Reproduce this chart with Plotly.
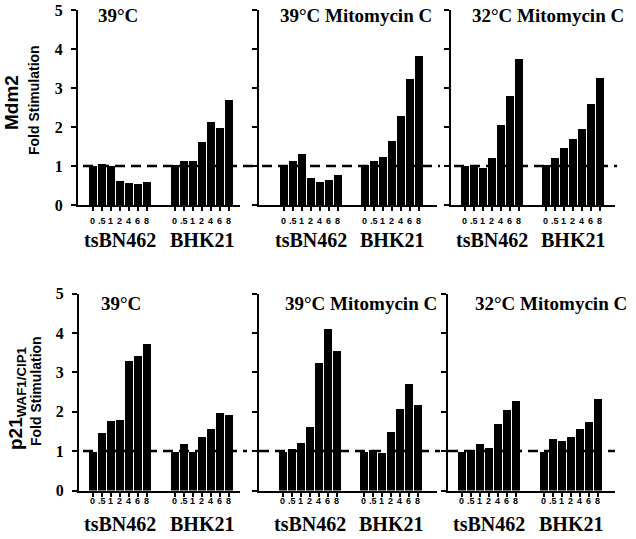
import plotly.graph_objects as go

W, H = 636, 539

doses = ["0", ".5", "1", "2", "4", "6", "8"]
groups = ["tsBN462", "BHK21"]
conditions = ["39°C", "39°C Mitomycin C", "32°C Mitomycin C"]

# Mdm2 fold stimulation
mdm2_39_ts = [1.0, 1.06, 1.0, 0.62, 0.56, 0.54, 0.59]
mdm2_39_bhk = [1.02, 1.12, 1.12, 1.61, 2.14, 1.98, 2.68]
mdm2_39m_ts = [1.0, 1.13, 1.32, 0.70, 0.59, 0.65, 0.76]
mdm2_39m_bhk = [1.03, 1.13, 1.24, 1.65, 2.27, 3.23, 3.82]
mdm2_32m_ts = [1.0, 1.03, 0.96, 1.2, 2.05, 2.79, 3.75]
mdm2_32m_bhk = [1.03, 1.2, 1.45, 1.7, 1.94, 2.6, 3.26]

# p21 WAF1/CIP1 fold stimulation
p21_39_ts = [1.0, 1.48, 1.78, 1.81, 3.29, 3.43, 3.72]
p21_39_bhk = [1.0, 1.2, 1.0, 1.36, 1.57, 1.98, 1.92]
p21_39m_ts = [1.0, 1.06, 1.22, 1.62, 3.24, 4.1, 3.56]
p21_39m_bhk = [0.98, 1.04, 0.97, 1.49, 2.09, 2.71, 2.19]
p21_32m_ts = [1.0, 1.03, 1.19, 1.09, 1.71, 2.06, 2.29]
p21_32m_bhk = [1.0, 1.32, 1.26, 1.37, 1.57, 1.76, 2.33]

y_ticks = [0, 1, 2, 3, 4, 5]

rows_data = [
    [(mdm2_39_ts, mdm2_39_bhk), (mdm2_39m_ts, mdm2_39m_bhk), (mdm2_32m_ts, mdm2_32m_bhk)],
    [(p21_39_ts, p21_39_bhk), (p21_39m_ts, p21_39m_bhk), (p21_32m_ts, p21_32m_bhk)],
]

# ---- layout geometry (pixels) ----
PITCH = 9.0
rows_geom = [
    dict(y0=205, y5=10, grp_y=240, title_y=15, tick_y=221,
         panels=[(78, 240, 1.65, 9.11, 96, 83, 253),
                 (259, 437, 2.76, 9.0, 278, 262, 440),
                 (451, 615, 1.54, 9.0, 470, 454, 617)]),
    dict(y0=490.5, y5=293.5, grp_y=524, title_y=303, tick_y=501,
         panels=[(79, 240, 1.54, 9.11, 99, 83, 247),
                 (259, 437, 2.65, 9.0, 283, 259, 440),
                 (448, 615, 1.54, 9.11, 473, 448, 615)]),
]


def px(x):
    return x / W


def py(y):
    return 1 - y / H


SERIF = "Liberation Serif"
SANS = "Liberation Sans"

fig = go.Figure()
layout = {}
annotations = []
shapes = []

k = 0
for r, geom in enumerate(rows_geom):
    for c, (ax_px, end_px, first_off, bhk_off, title_x, dash0, dash1) in enumerate(geom["panels"]):
        k += 1
        xa = "x" if k == 1 else f"x{k}"
        ya = "y" if k == 1 else f"y{k}"
        ts_vals, bhk_vals = rows_data[r][c]
        xs_ts = [i for i in range(len(doses))]
        xs_bhk = [bhk_off + i for i in range(len(doses))]
        fig.add_trace(go.Bar(x=xs_ts + xs_bhk, y=ts_vals + bhk_vals,
                             width=0.85, marker=dict(color="black", line=dict(width=0)),
                             xaxis=xa, yaxis=ya, showlegend=False, hoverinfo="skip"))
        span = (end_px - ax_px) / PITCH
        layout["xaxis" if k == 1 else f"xaxis{k}"] = dict(
            domain=[px(ax_px), px(end_px)], range=[-first_off, -first_off + span],
            anchor=ya, showgrid=False, zeroline=False, showline=True, automargin=False,
            linecolor="black", linewidth=2, ticks="outside", ticklen=4,
            tickwidth=1.5, tickcolor="black",
            tickvals=xs_ts + xs_bhk, showticklabels=False, fixedrange=True)
        layout["yaxis" if k == 1 else f"yaxis{k}"] = dict(
            domain=[py(geom["y0"]), py(geom["y5"])], range=[0, 5],
            anchor=xa, showgrid=False, zeroline=False, showline=True, automargin=False,
            linecolor="black", linewidth=2, ticks="outside", ticklen=5,
            tickwidth=1.5, tickcolor="black", tickvals=y_ticks,
            showticklabels=(c == 0), ticklabelstandoff=5,
            tickfont=dict(family=SERIF, size=16, color="black", weight="bold"),
            fixedrange=True)
        # dose tick labels
        for xv, lab in zip(xs_ts + xs_bhk, doses + doses):
            annotations.append(dict(text=f"<b>{lab}</b>", xref=xa, yref="paper",
                                    x=xv, y=py(geom["tick_y"]), xanchor="center",
                                    yanchor="middle", showarrow=False,
                                    font=dict(family=SANS, size=9, color="black")))
        # dashed reference line at 1
        shapes.append(dict(type="line", xref="paper", yref=ya,
                           x0=px(dash0), x1=px(dash1), y0=1, y1=1,
                           line=dict(color="black", width=2.5, dash="10px,6px")))
        # group labels
        for g, off in zip(groups, [0, bhk_off]):
            annotations.append(dict(text=f"<b>{g}</b>", xref=xa, yref="paper",
                                    x=off + 3, y=py(geom["grp_y"]),
                                    xanchor="center", yanchor="middle", showarrow=False,
                                    font=dict(family=SERIF, size=20, color="black")))
        # panel title
        annotations.append(dict(text=f"<b>{conditions[c]}</b>", xref="paper", yref="paper",
                                x=px(title_x), y=py(geom["title_y"]),
                                xanchor="left", yanchor="middle", showarrow=False,
                                font=dict(family=SERIF, size=19, color="black")))

# y-axis titles
annotations += [
    dict(text="<b>Mdm2</b>", xref="paper", yref="paper", x=px(11), y=py(103),
         textangle=-90, showarrow=False, xanchor="center", yanchor="middle",
         font=dict(family=SANS, size=19, color="black")),
    dict(text="<b>Fold Stimulation</b>", xref="paper", yref="paper", x=px(34), y=py(100),
         textangle=-90, showarrow=False, xanchor="center", yanchor="middle",
         font=dict(family=SANS, size=14, color="black")),
    dict(text="<b>p21</b><sub><b>WAF1/CIP1</b></sub>", xref="paper", yref="paper",
         x=px(17), y=py(398), textangle=-90, showarrow=False,
         xanchor="center", yanchor="middle",
         font=dict(family=SANS, size=19, color="black")),
    dict(text="<b>Fold Stimulation</b>", xref="paper", yref="paper", x=px(36), y=py(391),
         textangle=-90, showarrow=False, xanchor="center", yanchor="middle",
         font=dict(family=SANS, size=14, color="black")),
]

fig.update_layout(width=W, height=H, margin=dict(l=0, r=0, t=0, b=0, autoexpand=False),
                  paper_bgcolor="white", plot_bgcolor="white",
                  bargap=0, annotations=annotations, shapes=shapes, **layout)

fig.write_html("out.html",
               config={"displayModeBar": False},
               post_script="document.body.style.margin='0px';"
                           "document.body.style.padding='0px';"
                           "document.documentElement.style.overflow='hidden';")
